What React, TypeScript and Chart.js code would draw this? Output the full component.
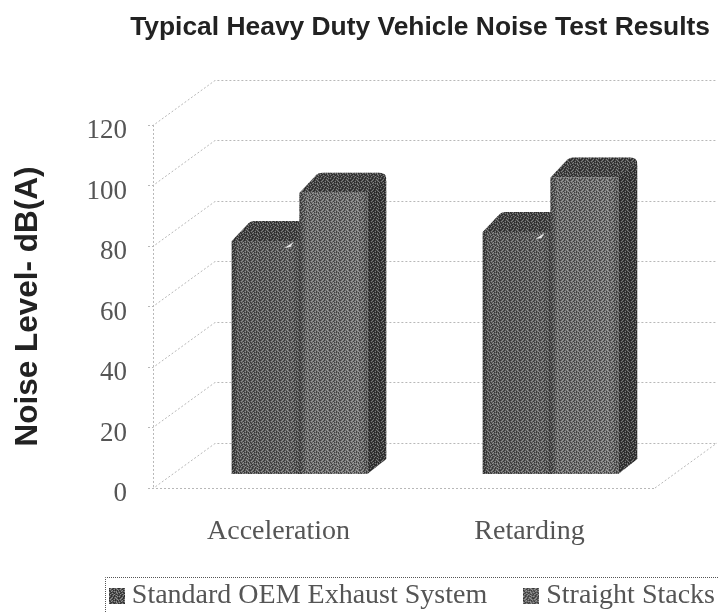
import React, { useEffect, useRef } from "react";
import { Chart, registerables } from "chart.js";

Chart.register(...registerables);

const categories = ["Acceleration", "Retarding"];
const seriesNames = ["Standard OEM Exhaust System", "Straight Stacks"];
const standardOem = [77, 80];
const straightStacks = [93, 98];
const yMin = 0;
const yMax = 120;
const yStep = 20;

const WALL_DX = 62;
const WALL_DY = 45;
const BAR_SHIFT_X = 21;
const BAR_SHIFT_Y = 14;
const BAR_DX = 19;
const BAR_DY = 20;
const GRID = "#b8b8b8";

// Fixed stipple tile imitating the scan's halftone: d = dark dot, l = light dot
const TILE = [
  "d.l.d..l.d",
  ".l.d.ld.l.",
  "d..ld.d.dl",
  ".dl..l.ld.",
  "l.d.d.dl..",
  ".d.l.d..ld",
  "dl.d.l.d..",
  "..d.ld.l.d",
  "l.d..d.dl.",
  ".d.ld.l..d",
];

function makeStipple(dark: number, light: number) {
  const c = document.createElement("canvas");
  c.width = TILE[0].length;
  c.height = TILE.length;
  const x = c.getContext("2d") as CanvasRenderingContext2D;
  TILE.forEach((row, j) => {
    [...row].forEach((ch, i) => {
      if (ch === "d") {
        x.fillStyle = `rgba(0,0,0,${dark})`;
        x.fillRect(i, j, 1, 1);
      } else if (ch === "l") {
        x.fillStyle = `rgba(255,255,255,${light})`;
        x.fillRect(i, j, 1, 1);
      }
    });
  });
  return c;
}

function makeSwatch(base: string) {
  const c = document.createElement("canvas");
  c.width = 16;
  c.height = 16;
  const x = c.getContext("2d") as CanvasRenderingContext2D;
  x.fillStyle = base;
  x.fillRect(0, 0, 16, 16);
  x.fillStyle = x.createPattern(makeStipple(0.5, 0.4), "repeat") as CanvasPattern;
  x.fillRect(0, 0, 16, 16);
  return c;
}

const threeD = {
  id: "threeD",
  afterLayout(chart: any) {
    // the legend row is placed independently of the block Chart.js reserves for it
    chart.legend.right = 758;
    chart.legend.top = 539;
  },
  beforeDatasetsDraw(chart: any) {
    const { ctx, chartArea: a, scales } = chart;
    const y = scales.y;
    const stipple = ctx.createPattern(makeStipple(0.42, 0.3), "repeat");
    ctx.save();
    ctx.strokeStyle = GRID;
    ctx.lineWidth = 1;
    ctx.setLineDash([2, 2]);
    ctx.beginPath();
    ctx.moveTo(a.left + 0.5, a.top);
    ctx.lineTo(a.left + 0.5, a.bottom);
    ctx.moveTo(a.left - 5, a.bottom + 0.5);
    ctx.lineTo(a.right, a.bottom + 0.5);
    ctx.stroke();
    for (const t of y.ticks) {
      const py = Math.round(y.getPixelForValue(t.value)) + 0.5;
      ctx.beginPath();
      ctx.moveTo(a.left - 5, py);
      ctx.lineTo(a.left, py);
      ctx.lineTo(a.left + WALL_DX, py - WALL_DY);
      ctx.lineTo(a.right + WALL_DX, py - WALL_DY);
      ctx.stroke();
    }
    ctx.beginPath();
    ctx.moveTo(a.right, a.bottom);
    ctx.lineTo(a.right + WALL_DX, a.bottom - WALL_DY);
    ctx.stroke();
    ctx.setLineDash([]);
    chart.data.datasets.forEach((_: any, di: number) => {
      chart.getDatasetMeta(di).data.forEach((b: any) => {
        const l = b.x - b.width / 2 + BAR_SHIFT_X;
        const r = b.x + b.width / 2 + BAR_SHIFT_X;
        const t = b.y - BAR_SHIFT_Y;
        const bt = b.base - BAR_SHIFT_Y;
        const side = new Path2D();
        side.moveTo(r, t);
        side.lineTo(r + BAR_DX - 4, t - BAR_DY + 2);
        side.quadraticCurveTo(r + BAR_DX, t - BAR_DY + 3, r + BAR_DX, t - BAR_DY + 9);
        side.lineTo(r + BAR_DX, bt - BAR_DY + 5);
        side.lineTo(r, bt);
        side.closePath();
        ctx.fillStyle = "#3e3e3e";
        ctx.fill(side);
        ctx.fillStyle = stipple;
        ctx.fill(side);
        const top = new Path2D();
        top.moveTo(l, t);
        top.lineTo(l + BAR_DX - 2, t - BAR_DY + 2);
        top.quadraticCurveTo(l + BAR_DX, t - BAR_DY, l + BAR_DX + 4, t - BAR_DY);
        top.lineTo(r + BAR_DX - 7, t - BAR_DY);
        top.quadraticCurveTo(r + BAR_DX, t - BAR_DY, r + BAR_DX, t - BAR_DY + 6);
        top.lineTo(r, t);
        top.closePath();
        ctx.fillStyle = "#484848";
        ctx.fill(top);
        ctx.fillStyle = stipple;
        ctx.fill(top);
      });
    });
    ctx.restore();
    ctx.save();
    ctx.translate(BAR_SHIFT_X, -BAR_SHIFT_Y);
  },
  afterDatasetsDraw(chart: any) {
    const ctx = chart.ctx;
    ctx.restore();
    ctx.save();
    const stipple = ctx.createPattern(makeStipple(0.42, 0.3), "repeat");
    chart.data.datasets.forEach((_: any, di: number) => {
      chart.getDatasetMeta(di).data.forEach((b: any) => {
        const l = b.x - b.width / 2 + BAR_SHIFT_X;
        const r = b.x + b.width / 2 + BAR_SHIFT_X;
        const t = b.y - BAR_SHIFT_Y;
        const bt = b.base - BAR_SHIFT_Y;
        const g = ctx.createLinearGradient(l, 0, r, 0);
        g.addColorStop(0, "rgba(0,0,0,0.35)");
        g.addColorStop(0.1, "rgba(0,0,0,0)");
        g.addColorStop(0.82, "rgba(255,255,255,0.04)");
        g.addColorStop(1, "rgba(0,0,0,0.2)");
        ctx.fillStyle = g;
        ctx.fillRect(l, t, r - l, bt - t);
        ctx.fillStyle = stipple;
        ctx.fillRect(l, t, r - l, bt - t);
        if (di === 0) {
          ctx.fillStyle = "#e8e8e8";
          ctx.beginPath();
          ctx.moveTo(r - 15, t + 7);
          ctx.lineTo(r - 6, t + 1);
          ctx.lineTo(r - 9, t + 6);
          ctx.closePath();
          ctx.fill();
        }
      });
    });
    ctx.restore();
  },
  afterDraw(chart: any) {
    const ctx = chart.ctx;
    ctx.save();
    ctx.strokeStyle = "#555";
    ctx.lineWidth = 1;
    ctx.setLineDash([1, 1]);
    ctx.beginPath();
    ctx.moveTo(105.5, chart.height);
    ctx.lineTo(105.5, 577.5);
    ctx.lineTo(chart.width, 577.5);
    ctx.stroke();
    ctx.restore();
  },
};

export default function App() {
  const ref = useRef<HTMLCanvasElement>(null);
  useEffect(() => {
    const swatches = [makeSwatch("#555"), makeSwatch("#666")];
    const chart = new Chart(ref.current as HTMLCanvasElement, {
      type: "bar",
      data: {
        labels: categories,
        datasets: [
          {
            label: seriesNames[0],
            data: standardOem,
            backgroundColor: "#5e5e5e",
            clip: false,
            barPercentage: 1,
            categoryPercentage: 0.54,
          } as any,
          {
            label: seriesNames[1],
            data: straightStacks,
            backgroundColor: "#707070",
            clip: false,
            barPercentage: 1,
            categoryPercentage: 0.54,
          } as any,
        ],
      },
      plugins: [threeD],
      options: {
        responsive: false,
        animation: false,
        layout: { padding: { right: 9 } },
        plugins: {
          tooltip: { enabled: false },
          title: {
            display: true,
            text: "Typical Heavy Duty Vehicle Noise Test Results",
            align: "end",
            color: "#222",
            font: { family: "Liberation Sans", size: 26.4, weight: "bold" },
            padding: { top: 12, bottom: 81.3 },
          },
          legend: {
            position: "bottom",
            align: "end",
            maxHeight: 30,
            labels: {
              color: "#555",
              font: { family: "Liberation Serif", size: 28 },
              usePointStyle: true,
              pointStyleWidth: 2,
              boxHeight: 16,
              padding: 43,
              generateLabels: (c: any) =>
                c.data.datasets.map((d: any, i: number) => ({
                  text: d.label,
                  pointStyle: swatches[i],
                  datasetIndex: i,
                  fontColor: "#555",
                })),
            },
          },
        },
        scales: {
          x: {
            grid: { display: false, drawTicks: false },
            border: { display: false },
            ticks: {
              color: "#555",
              padding: 27,
              maxRotation: 0,
              font: { family: "Liberation Serif", size: 28 },
            },
            afterFit: (s: any) => {
              s.height = 94;
            },
          },
          y: {
            min: yMin,
            max: yMax,
            grid: { display: false, drawTicks: false },
            border: { display: false },
            ticks: {
              stepSize: yStep,
              color: "#555",
              padding: 26,
              labelOffset: 6,
              font: { family: "Liberation Serif", size: 27 },
            },
            title: {
              display: true,
              text: "Noise Level- dB(A)",
              color: "#222",
              font: { family: "Liberation Sans", size: 31.5, weight: "bold" },
              padding: { top: 9, bottom: 0 },
            },
            afterFit: (s: any) => {
              s.width = 153;
            },
          },
          spare: {
            position: "right",
            display: true,
            grid: { display: false, drawTicks: false },
            border: { display: false },
            ticks: { display: false },
            afterFit: (s: any) => {
              s.width = 55;
            },
          },
        },
      } as any,
    });
    return () => chart.destroy();
  }, []);
  return (
    <div style={{ position: "fixed", left: 0, top: 0, width: 719, height: 612, background: "#fff" }}>
      <canvas ref={ref} width={719} height={612} style={{ display: "block" }} />
    </div>
  );
}
